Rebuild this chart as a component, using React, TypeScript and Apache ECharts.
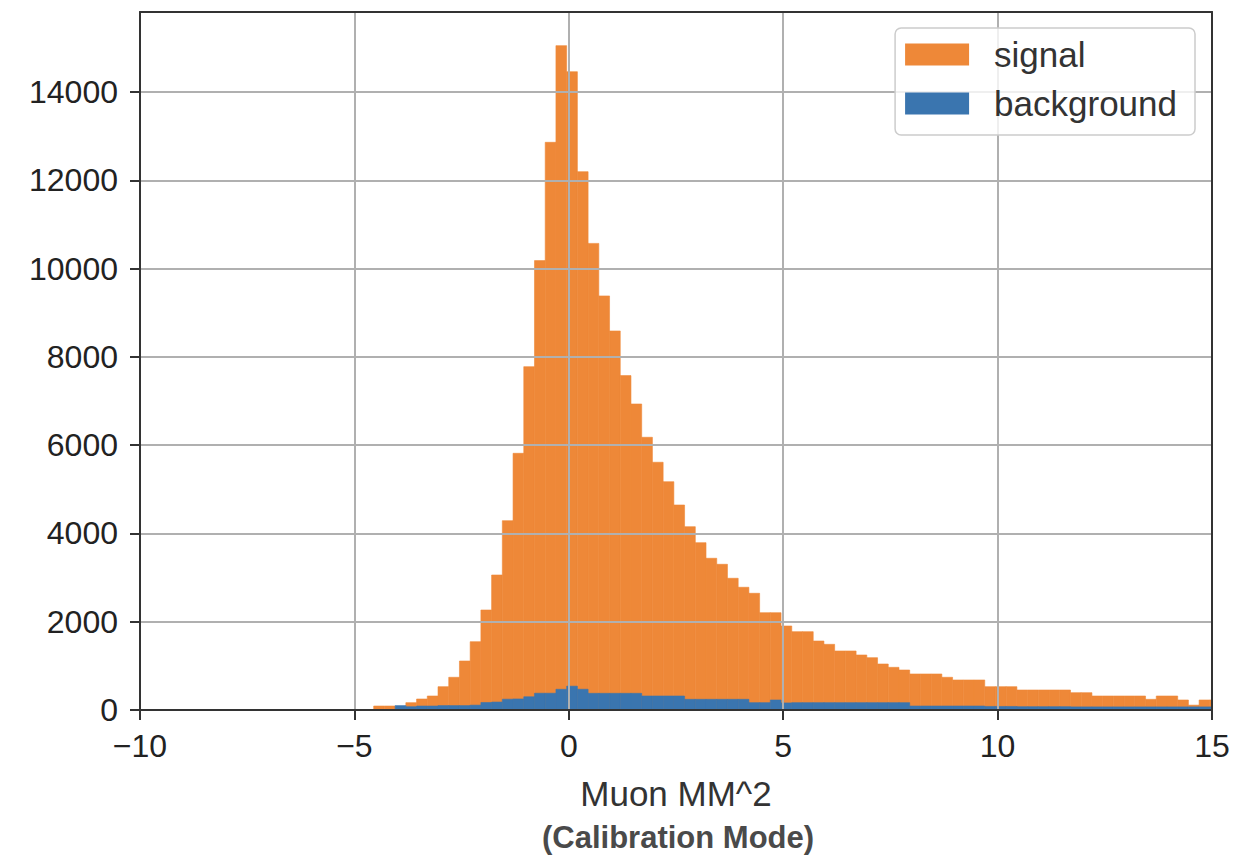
import React, { useEffect, useRef } from "react";
import * as echarts from "echarts";

// Histogram bins (width 0.25), left edge of first bin
const binStart = -4.55;
const binWidth = 0.25;

// Counts per bin
const signal = [
  90, 90, 50, 166, 249, 317, 528, 741, 1110, 1547,
  2265, 3058, 4289, 5815, 7778, 10180, 12860, 15050, 14460, 12195,
  10570, 9380, 8586, 7575, 6932, 6178, 5612, 5172, 4644, 4153,
  3791, 3437, 3301, 2984, 2780, 2644, 2205, 2205, 1903, 1774,
  1774, 1563, 1488, 1337, 1337, 1246, 1185, 1042, 967, 906,
  816, 816, 816, 741, 680, 680, 680, 528, 528, 528,
  453, 453, 453, 453, 453, 392, 392, 317, 317, 317,
  317, 317, 242, 317, 317, 227, 110, 227, 227,
];

const background = [
  0, 0, 100, 75, 90, 90, 100, 100, 100, 110,
  170, 180, 245, 250, 300, 380, 380, 469, 540, 470,
  378, 378, 378, 378, 378, 317, 317, 317, 317, 242,
  242, 242, 242, 242, 242, 166, 166, 227, 160, 166,
  166, 166, 166, 166, 166, 166, 166, 166, 166, 166,
  90, 90, 90, 90, 90, 90, 90, 80, 80, 80,
  75, 75, 75, 75, 75, 70, 70, 70, 70, 70,
  70, 70, 70, 70, 70, 70, 70, 70, 70,
];

const yTicks = [0, 2000, 4000, 6000, 8000, 10000, 12000, 14000];
const xMin = -10;
const xMax = 15;
const yMax = 15812;

const seriesNames = ["signal", "background"];
const colors = ["#EE8838", "#3A75AF"];

const FONT = "Liberation Sans";

function toBins(counts: number[]) {
  return counts.map((c, i) => [binStart + i * binWidth, binStart + (i + 1) * binWidth, c]);
}

function makeRender(color: string) {
  return (params: any, api: any) => {
    const x0 = api.value(0);
    const x1 = api.value(1);
    const y = api.value(2);
    const p0 = api.coord([x0, y]);
    const p1 = api.coord([x1, 0]);
    const cs = params.coordSys;
    const shape = echarts.graphic.clipRectByRect(
      { x: p0[0], y: p0[1], width: p1[0] - p0[0], height: p1[1] - p0[1] },
      { x: cs.x, y: cs.y, width: cs.width, height: cs.height }
    );
    if (!shape) return null;
    return {
      type: "rect",
      shape,
      style: { fill: color, stroke: color, lineWidth: 0.6 },
    };
  };
}

export default function App() {
  const ref = useRef<HTMLDivElement>(null);
  useEffect(() => {
    if (!ref.current) return;
    const chart = echarts.init(ref.current, undefined, { renderer: "svg" });
    const fmtX = (v: number) => (v < 0 ? "\u2212" + Math.abs(v) : String(v));
    const fmtY = (v: number) => String(v);
    chart.setOption({
      animation: false,
      backgroundColor: "#ffffff",
      grid: { left: 140, right: 21, top: 12, bottom: 146, containLabel: false },
      title: {
        text: "(Calibration Mode)",
        left: 542,
        top: 822,
        padding: 0,
        textStyle: { fontSize: 31, fontWeight: "bold", color: "#4a4a4a", fontFamily: FONT },
      },
      legend: {
        orient: "vertical",
        right: 38,
        top: 28,
        z: 10,
        data: seriesNames,
        icon: "rect",
        itemWidth: 64,
        itemHeight: 22,
        itemGap: 14,
        padding: [9, 18, 14, 10],
        backgroundColor: "rgba(255,255,255,0.8)",
        borderColor: "#cccccc",
        borderWidth: 1.5,
        borderRadius: 6,
        textStyle: { fontSize: 35, color: "#333", fontFamily: FONT, padding: [0, 0, 0, 20] },
      },
      xAxis: [
        {
          type: "value",
          min: xMin,
          max: xMax,
          interval: 5,
          z: 5,
          name: "Muon MM^2",
          nameLocation: "middle",
          nameGap: 66,
          nameTextStyle: { fontSize: 35, color: "#333", fontFamily: FONT },
          axisLine: { show: true, onZero: false, lineStyle: { color: "#333", width: 2 } },
          axisTick: { show: true, length: 10, lineStyle: { color: "#333", width: 2 } },
          axisLabel: { fontSize: 32, color: "#222", fontFamily: FONT, margin: 20, formatter: fmtX },
          splitLine: { show: true, lineStyle: { color: "#b0b0b0", width: 2 } },
        },
        {
          type: "value",
          position: "top",
          min: xMin,
          max: xMax,
          interval: 5,
          z: 5,
          axisLine: { show: true, onZero: false, lineStyle: { color: "#333", width: 2 } },
          axisTick: { show: false },
          axisLabel: { show: false },
          splitLine: { show: false },
        },
      ],
      yAxis: [
        {
          type: "value",
          min: 0,
          max: yMax,
          interval: 2000,
          z: 5,
          axisLine: { show: true, onZero: false, lineStyle: { color: "#333", width: 2 } },
          axisTick: { show: true, length: 10, lineStyle: { color: "#333", width: 2 }, customValues: yTicks },
          axisLabel: { fontSize: 32, color: "#222", fontFamily: FONT, margin: 22, customValues: yTicks, formatter: fmtY },
          splitLine: { show: true, lineStyle: { color: "#b0b0b0", width: 2 } },
        },
        {
          type: "value",
          position: "right",
          min: 0,
          max: yMax,
          z: 5,
          axisLine: { show: true, onZero: false, lineStyle: { color: "#333", width: 2 } },
          axisTick: { show: false },
          axisLabel: { show: false },
          splitLine: { show: false },
        },
      ],
      series: [
        {
          name: seriesNames[0],
          type: "custom",
          xAxisIndex: 0,
          yAxisIndex: 0,
          itemStyle: { color: colors[0] },
          renderItem: makeRender(colors[0]),
          encode: { x: [0, 1], y: 2 },
          data: toBins(signal),
          z: 2,
        },
        {
          name: seriesNames[1],
          type: "custom",
          xAxisIndex: 0,
          yAxisIndex: 0,
          itemStyle: { color: colors[1] },
          renderItem: makeRender(colors[1]),
          encode: { x: [0, 1], y: 2 },
          data: toBins(background),
          z: 3,
        },
      ],
    });
    return () => chart.dispose();
  }, []);
  return (
    <div
      ref={ref}
      style={{ position: "fixed", left: 0, top: 0, width: 1233, height: 856, background: "#fff" }}
    />
  );
}
